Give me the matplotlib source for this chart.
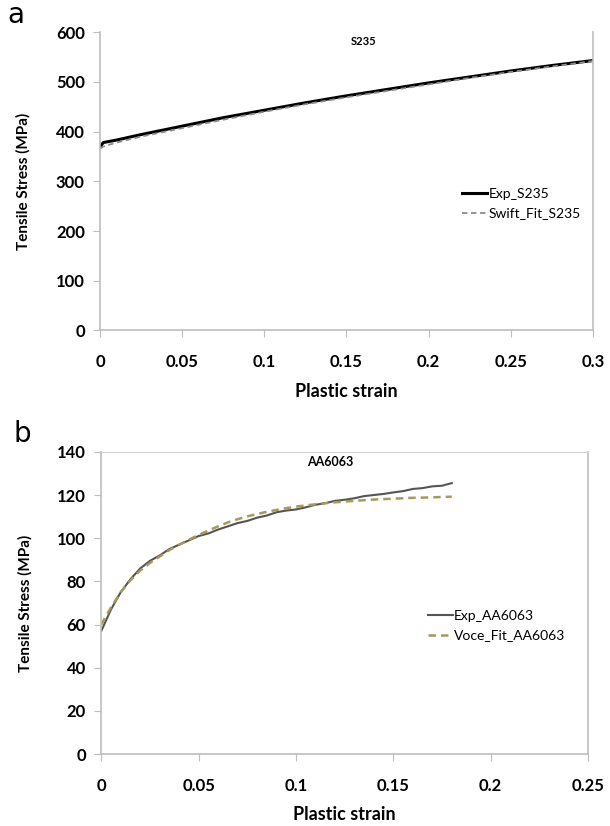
import matplotlib.pyplot as plt

# S235 data (panel a)
s235_strain = [0.0, 0.002, 0.01, 0.025, 0.05, 0.075, 0.1, 0.125, 0.15, 0.175, 0.2, 0.225, 0.25, 0.275, 0.3]
s235_exp = [370, 378, 383, 394, 411, 428, 443, 458, 472, 485, 498, 510, 522, 533, 543]
s235_swift = [366, 370, 378, 390, 407, 424, 440, 455, 469, 482, 495, 508, 520, 531, 542]

# AA6063 data (panel b)
aa_strain = [0.0, 0.005, 0.01, 0.015, 0.02, 0.025, 0.03, 0.035, 0.04, 0.045, 0.05, 0.055,
             0.06, 0.065, 0.07, 0.075, 0.08, 0.085, 0.09, 0.095, 0.1, 0.105, 0.11, 0.115,
             0.12, 0.125, 0.13, 0.135, 0.14, 0.145, 0.15, 0.155, 0.16, 0.165, 0.17, 0.175, 0.18]
aa_exp = [57, 67, 75, 81, 86, 89.5, 92, 95, 97, 99, 101, 102.2,
          104, 105.5, 107, 108, 109.5, 110.5, 112, 112.8, 113.3, 114.3, 115.5, 116.2,
          117.3, 117.8, 118.5, 119.5, 120, 120.5, 121.2, 121.8, 122.8, 123.2, 124, 124.3, 125.5]
aa_voce = [60, 68, 75, 80.5, 85, 88.5, 91.5, 94.5, 97, 99.3, 101.5, 103.5,
           105.5, 107.3, 108.8, 110.1, 111.2, 112.2, 113.1, 113.9, 114.6, 115.2, 115.7, 116.2,
           116.6, 117, 117.3, 117.6, 117.9, 118.1, 118.3, 118.5, 118.7, 118.8, 118.9, 119.1, 119.2]

plt.rcParams['font.family'] = ['Lato', 'DejaVu Sans']
spine_col = '#bdbdbd'

fig = plt.figure(figsize=(6.1, 8.26), dpi=100)


def style_axes(ax, top=False):
    for side in ['left', 'bottom', 'right']:
        ax.spines[side].set_color(spine_col)
        ax.spines[side].set_linewidth(1.2)
    ax.spines['top'].set_visible(top)
    ax.spines['top'].set_color('#d0d0d0')
    ax.tick_params(axis='x', direction='out', length=5, color=spine_col,
                   labelsize=12, pad=12, top=False)
    ax.tick_params(axis='y', direction='out', length=5, color=spine_col,
                   labelsize=12, pad=6, right=False)
    for lab in ax.get_xticklabels() + ax.get_yticklabels():
        lab.set_fontweight('bold')
    ax.set_ylabel('Tensile Stress (MPa)', fontsize=11, fontweight='bold', labelpad=18)
    ax.set_xlabel('Plastic strain', fontsize=13, fontweight='bold', labelpad=9)


# panel a
ax1 = fig.add_axes([0.164, 0.600, 0.808, 0.361])
ax1.plot(s235_strain, s235_exp, color='black', lw=2.2, label='Exp_S235')
ax1.plot(s235_strain, s235_swift, color='#8c8c8c', lw=1.3, ls=(0, (3, 2)), label='Swift_Fit_S235')
ax1.set_xlim(0, 0.3)
ax1.set_ylim(0, 600)
ax1.set_xticks([0, 0.05, 0.1, 0.15, 0.2, 0.25, 0.3])
ax1.set_xticklabels(['0', '0.05', '0.1', '0.15', '0.2', '0.25', '0.3'])
ax1.set_yticks(range(0, 601, 100))
style_axes(ax1)
ax1.text(0.535, 0.97, 'S235', transform=ax1.transAxes, ha='center', va='center',
         fontsize=8, fontweight='bold')
ax1.legend(loc='center left', bbox_to_anchor=(0.71, 0.425), frameon=False, fontsize=10,
           handlelength=1.8, handletextpad=0.1, labelspacing=0.55)
fig.text(0.012, 0.982, 'a', fontsize=20, va='center', family='DejaVu Sans')

# panel b
ax2 = fig.add_axes([0.166, 0.087, 0.798, 0.366])
ax2.plot(aa_strain, aa_exp, color='#555555', lw=1.5, label='Exp_AA6063')
ax2.plot(aa_strain, aa_voce, color='#a8985a', lw=1.8, ls=(0, (3, 2)), label='Voce_Fit_AA6063')
ax2.set_xlim(0, 0.25)
ax2.set_ylim(0, 140)
ax2.set_xticks([0, 0.05, 0.1, 0.15, 0.2, 0.25])
ax2.set_xticklabels(['0', '0.05', '0.1', '0.15', '0.2', '0.25'])
ax2.set_yticks(range(0, 141, 20))
style_axes(ax2, top=True)
ax2.text(0.47, 0.965, 'AA6063', transform=ax2.transAxes, ha='center', va='center',
         fontsize=9, fontweight='bold')
ax2.legend(loc='center left', bbox_to_anchor=(0.645, 0.425), frameon=False, fontsize=10,
           handlelength=1.8, handletextpad=0.1, labelspacing=0.55)
fig.text(0.022, 0.475, 'b', fontsize=20, va='center', family='DejaVu Sans')

fig.savefig('out.png', dpi=100)
